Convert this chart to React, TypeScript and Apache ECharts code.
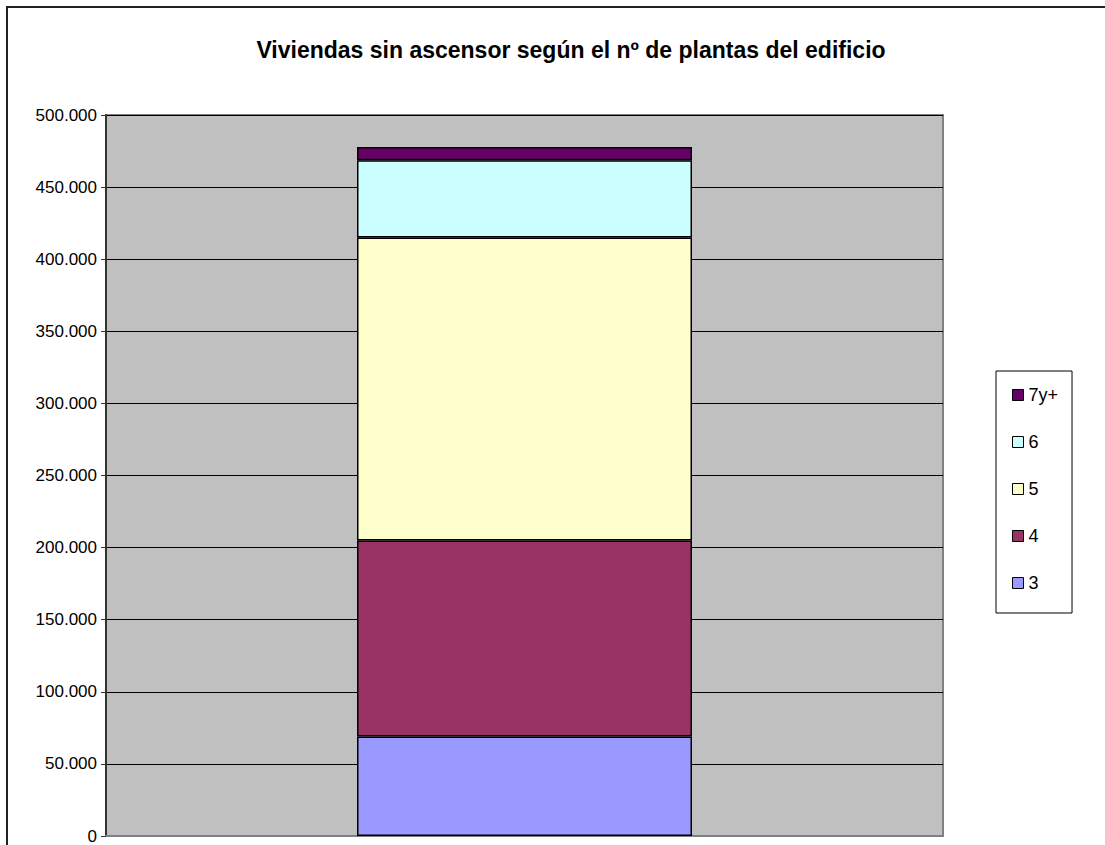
import React, { useEffect, useRef } from "react";
import * as echarts from "echarts";

const categories = [""];
const seriesNames = ["3", "4", "5", "6", "7y+"];
const v3 = [69000];
const v4 = [136000];
const v5 = [210000];
const v6 = [53600];
const v7 = [9200];
const seriesValues = [v3, v4, v5, v6, v7];
const colors = ["#9999FF", "#993366", "#FFFFCC", "#CCFFFF", "#660066"];
const legendOrder = ["7y+", "6", "5", "4", "3"];
const titleText = "Viviendas sin ascensor según el nº de plantas del edificio";

const fmt = (v: number) => String(v).replace(/\B(?=(\d{3})+(?!\d))/g, ".");

export default function App() {
  const ref = useRef<HTMLDivElement>(null);
  useEffect(() => {
    document.body.style.margin = "0";
    const chart = echarts.init(ref.current!, null, { renderer: "svg" });
    const font = "'Liberation Sans', Arial, sans-serif";
    chart.setOption({
      animation: false,
      backgroundColor: "#ffffff",
      title: {
        text: titleText,
        left: 566,
        top: 33,
        textAlign: "center",
        textStyle: { fontFamily: font, fontWeight: "bold", fontSize: 23, color: "#000" },
      },
      graphic: [
        {
          type: "rect",
          shape: { x: 7, y: 7, width: 1200, height: 1000 },
          style: { fill: "none", stroke: "#222", lineWidth: 2 },
          silent: true,
          z: -1,
        },
      ],
      grid: {
        left: 106,
        top: 115,
        right: 1105 - 943,
        bottom: 845 - 836,
        show: true,
        backgroundColor: "#C0C0C0",
        borderColor: "#808080",
        borderWidth: 2,
      },
      legend: {
        data: legendOrder,
        orient: "vertical",
        left: 996,
        top: 371,
        padding: [15, 14, 21, 16],
        itemGap: 29,
        itemWidth: 11,
        itemHeight: 11,
        icon: "rect",
        backgroundColor: "#ffffff",
        borderColor: "#000",
        borderWidth: 1,
        borderRadius: 0,
        textStyle: { fontFamily: font, fontSize: 18, color: "#000", padding: [0, 0, 0, 0] },
        itemStyle: { borderColor: "#000", borderWidth: 1 },
      },
      xAxis: {
        type: "category",
        data: categories,
        axisLine: { show: true, lineStyle: { color: "#808080", width: 2 } },
        axisTick: { show: false },
        axisLabel: { show: false },
      },
      yAxis: {
        type: "value",
        min: 0,
        max: 500000,
        interval: 50000,
        axisLine: { show: true, lineStyle: { color: "#333", width: 2 } },
        axisTick: { show: true, length: 5, lineStyle: { color: "#333", width: 1 } },
        axisLabel: {
          margin: 9,
          fontFamily: font,
          fontSize: 17,
          color: "#000",
          formatter: (v: number) => fmt(v),
        },
        splitLine: { show: true, lineStyle: { color: "#000", width: 1 } },
      },
      series: seriesNames.map((name, i) => ({
        name,
        type: "bar",
        stack: "total",
        barWidth: 335,
        data: seriesValues[i],
        itemStyle: { color: colors[i], borderColor: "#000", borderWidth: 1.5 },
      })),
    });
    return () => chart.dispose();
  }, []);
  return <div ref={ref} style={{ width: 1105, height: 845 }} />;
}
